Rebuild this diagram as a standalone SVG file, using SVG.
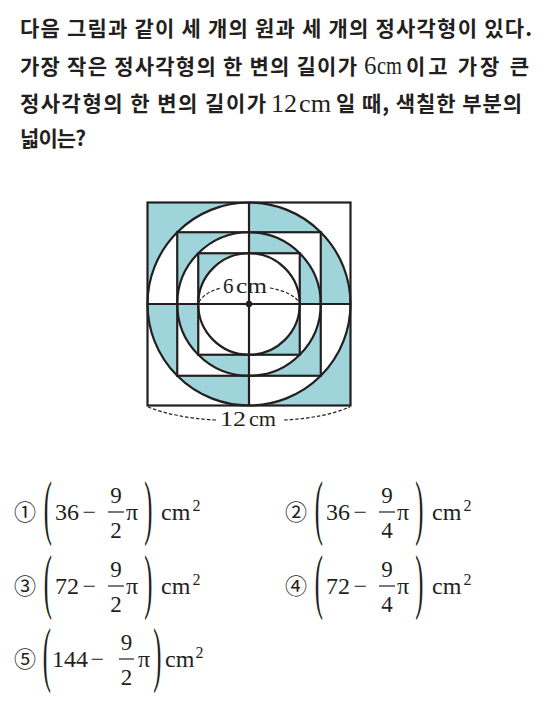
<svg xmlns="http://www.w3.org/2000/svg" width="551" height="706" viewBox="0 0 551 706">
<style>
.kr{font-family:"Noto Sans CJK KR","Noto Sans",sans-serif;font-size:21px;font-weight:700;fill:#231f20}
.se{font-family:"Liberation Serif","Times New Roman",serif;fill:#231f20}
.sm{font-family:"Liberation Serif","Times New Roman",serif;font-size:24px;fill:#231f20}
.sf{font-family:"Liberation Serif","Times New Roman",serif;font-size:23px;fill:#231f20;text-anchor:middle}
.ss{font-family:"Liberation Serif","Times New Roman",serif;font-size:16px;fill:#231f20}
.ln{fill:none;stroke:#231f20;stroke-width:2.2}
.bar{stroke:#231f20;stroke-width:1.2}
.dash{fill:none;stroke:#231f20;stroke-width:1.2;stroke-dasharray:3.5 2}
.t{fill:#9fd4db}
.w{fill:#ffffff}
.cn{font-family:"Noto Sans CJK KR",sans-serif;font-size:22px;fill:#231f20;text-anchor:middle}
.par{font-family:"Liberation Serif",serif;font-size:72px;fill:#231f20}
</style>
<defs>
<clipPath id="diagA"><rect x="147.5" y="202.5" width="101.5" height="101.5"/><rect x="249" y="304" width="101.5" height="101.5"/></clipPath>
<clipPath id="diagB"><rect x="249" y="202.5" width="101.5" height="101.5"/><rect x="147.5" y="304" width="101.5" height="101.5"/></clipPath>
</defs>
<rect width="551" height="706" fill="#ffffff"/>

<g id="question">
<text class="kr" x="20" y="36" textLength="512" lengthAdjust="spacing">다음 그림과 같이 세 개의 원과 세 개의 정사각형이 있다.</text>
<text class="kr" x="20" y="73.5" textLength="337" lengthAdjust="spacing">가장 작은 정사각형의 한 변의 길이가</text>
<text class="se" x="364" y="74" font-size="25">6</text>
<text class="se" x="377" y="74" font-size="25" textLength="25" lengthAdjust="spacingAndGlyphs">cm</text>
<text class="kr" x="406" y="73.5" textLength="123" lengthAdjust="spacing">이고 가장 큰</text>
<text class="kr" x="20" y="111" textLength="246" lengthAdjust="spacing">정사각형의 한 변의 길이가</text>
<text class="se" x="271" y="112" font-size="26">12</text>
<text class="se" x="299" y="112" font-size="26" textLength="32" lengthAdjust="spacingAndGlyphs">cm</text>
<text class="kr" x="336" y="111" textLength="186" lengthAdjust="spacing">일 때, 색칠한 부분의</text>
<text class="kr" x="20" y="146" textLength="66" lengthAdjust="spacing">넓이는?</text>
</g>

<g id="figure">
<g clip-path="url(#diagA)">
<rect class="t" x="147.5" y="202.5" width="203" height="203"/>
<circle class="w" cx="249" cy="304" r="101.5"/>
<rect class="t" x="177.23" y="232.23" width="143.54" height="143.54"/>
<circle class="w" cx="249" cy="304" r="71.77"/>
<rect class="t" x="198.25" y="253.25" width="101.5" height="101.5"/>
<circle class="w" cx="249" cy="304" r="50.75"/>
</g>
<g clip-path="url(#diagB)">
<rect class="w" x="147.5" y="202.5" width="203" height="203"/>
<circle class="t" cx="249" cy="304" r="101.5"/>
<rect class="w" x="177.23" y="232.23" width="143.54" height="143.54"/>
<circle class="t" cx="249" cy="304" r="71.77"/>
<rect class="w" x="198.25" y="253.25" width="101.5" height="101.5"/>
</g>
<rect class="ln" x="147.5" y="202.5" width="203" height="203"/>
<circle class="ln" cx="249" cy="304" r="101.5"/>
<rect class="ln" x="177.23" y="232.23" width="143.54" height="143.54"/>
<circle class="ln" cx="249" cy="304" r="71.77"/>
<rect class="ln" x="198.25" y="253.25" width="101.5" height="101.5"/>
<circle class="ln" cx="249" cy="304" r="50.75"/>
<line class="ln" x1="249" y1="202.5" x2="249" y2="405.5"/>
<line class="ln" x1="147.5" y1="304" x2="350.5" y2="304"/>
<circle cx="249" cy="304" r="3.2" fill="#231f20"/>
</g>

<g id="labels">
<path class="dash" d="M199,302 Q205,292 221,288"/>
<path class="dash" d="M270,288 Q292,292 299,302"/>
<text class="se" x="223" y="292.5" font-size="21">6</text>
<text class="se" x="236" y="292.5" font-size="21" textLength="31" lengthAdjust="spacingAndGlyphs">cm</text>
<path class="dash" d="M148,407 Q176,418 216,420"/>
<path class="dash" d="M284,420 Q324,418 350,407"/>
<text class="se" x="220" y="426" font-size="21" textLength="26" lengthAdjust="spacingAndGlyphs">12</text>
<text class="se" x="249" y="426" font-size="21" textLength="27" lengthAdjust="spacingAndGlyphs">cm</text>
</g>

<g id="choice1">
<text class="cn" x="25" y="519.5">①</text>
<text class="par" transform="translate(43.8,530.7) scale(0.34,1)">(</text>
<text class="sm" x="55" y="520">36</text>
<text class="sm" x="82.5" y="520">−</text>
<text class="sf" x="116" y="503">9</text>
<line class="bar" x1="108" y1="512" x2="124" y2="512"/>
<text class="sf" x="116" y="538">2</text>
<text class="sm" x="126" y="520">π</text>
<text class="par" transform="translate(144.3,530.7) scale(0.34,1)">)</text>
<text class="sm" x="161" y="520">cm</text>
<text class="ss" x="192.5" y="511">2</text>
</g>

<g id="choice2">
<text class="cn" x="296" y="519.5">②</text>
<text class="par" transform="translate(314.8,530.7) scale(0.34,1)">(</text>
<text class="sm" x="326" y="520">36</text>
<text class="sm" x="353.5" y="520">−</text>
<text class="sf" x="387" y="503">9</text>
<line class="bar" x1="379" y1="512" x2="395" y2="512"/>
<text class="sf" x="387" y="538">4</text>
<text class="sm" x="397" y="520">π</text>
<text class="par" transform="translate(415.3,530.7) scale(0.34,1)">)</text>
<text class="sm" x="432" y="520">cm</text>
<text class="ss" x="463.5" y="511">2</text>
</g>

<g id="choice3">
<text class="cn" x="25" y="593.5">③</text>
<text class="par" transform="translate(43.8,604.7) scale(0.34,1)">(</text>
<text class="sm" x="55" y="594">72</text>
<text class="sm" x="82.5" y="594">−</text>
<text class="sf" x="116" y="577">9</text>
<line class="bar" x1="108" y1="586" x2="124" y2="586"/>
<text class="sf" x="116" y="612">2</text>
<text class="sm" x="126" y="594">π</text>
<text class="par" transform="translate(144.3,604.7) scale(0.34,1)">)</text>
<text class="sm" x="161" y="594">cm</text>
<text class="ss" x="192.5" y="585">2</text>
</g>

<g id="choice4">
<text class="cn" x="296" y="593.5">④</text>
<text class="par" transform="translate(314.8,604.7) scale(0.34,1)">(</text>
<text class="sm" x="326" y="594">72</text>
<text class="sm" x="353.5" y="594">−</text>
<text class="sf" x="387" y="577">9</text>
<line class="bar" x1="379" y1="586" x2="395" y2="586"/>
<text class="sf" x="387" y="612">4</text>
<text class="sm" x="397" y="594">π</text>
<text class="par" transform="translate(415.3,604.7) scale(0.34,1)">)</text>
<text class="sm" x="432" y="594">cm</text>
<text class="ss" x="463.5" y="585">2</text>
</g>

<g id="choice5">
<text class="cn" x="25" y="666.5">⑤</text>
<text class="par" transform="translate(42.8,677.7) scale(0.34,1)">(</text>
<text class="sm" x="52" y="667">144</text>
<text class="sm" x="90.5" y="667">−</text>
<text class="sf" x="126.5" y="650">9</text>
<line class="bar" x1="119" y1="659" x2="134" y2="659"/>
<text class="sf" x="126.5" y="685">2</text>
<text class="sm" x="138" y="667">π</text>
<text class="par" transform="translate(153.3,677.7) scale(0.34,1)">)</text>
<text class="sm" x="165" y="667">cm</text>
<text class="ss" x="195.5" y="658">2</text>
</g>
</svg>
